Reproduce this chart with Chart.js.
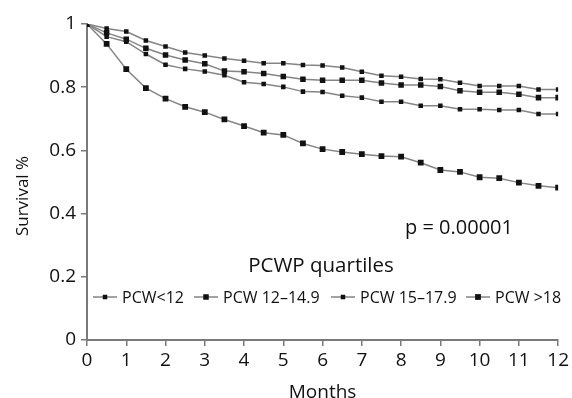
<!DOCTYPE html>
<html><head><meta charset="utf-8">
<script src="https://cdn.jsdelivr.net/npm/chart.js@4.4.0/dist/chart.umd.min.js"></script>
<style>html,body{margin:0;padding:0;background:#fff;}</style>
</head><body>
<canvas id="c" width="572" height="398"></canvas>
<script>
// ---- data ----
const months = [0,0.5,1,1.5,2,2.5,3,3.5,4,4.5,5,5.5,6,6.5,7,7.5,8,8.5,9,9.5,10,10.5,11,11.5,12];
const seriesLabels = ['PCW<12','PCW 12\u201314.9','PCW 15\u201317.9','PCW >18'];
const pcwUnder12 = [1,0.986,0.976,0.948,0.929,0.910,0.900,0.891,0.884,0.876,0.876,0.870,0.869,0.862,0.849,0.836,0.833,0.826,0.825,0.814,0.804,0.804,0.804,0.793,0.793];
const pcw12to149 = [1,0.972,0.952,0.923,0.902,0.886,0.874,0.851,0.849,0.843,0.834,0.825,0.822,0.822,0.822,0.813,0.807,0.807,0.802,0.789,0.784,0.784,0.778,0.767,0.767];
const pcw15to179 = [1,0.960,0.944,0.905,0.871,0.858,0.850,0.838,0.816,0.810,0.801,0.786,0.785,0.773,0.767,0.754,0.754,0.741,0.741,0.730,0.730,0.728,0.728,0.715,0.715];
const pcwOver18  = [1,0.937,0.857,0.797,0.764,0.738,0.721,0.698,0.677,0.656,0.649,0.622,0.604,0.595,0.588,0.582,0.580,0.561,0.538,0.532,0.515,0.512,0.498,0.488,0.482];
const xTicks = [0,1,2,3,4,5,6,7,8,9,10,11,12];
const yTicks = [0,0.2,0.4,0.6,0.8,1];
const yTickLabels = ['0','0.2','0.4','0.6','0.8','1'];
const legendTitle = 'PCWP quartiles';
const pValueText = 'p = 0.00001';
const xTitle = 'Months';
const yTitle = 'Survival %';

// ---- styles ----
const FONT = "'Open Sans', 'Noto Sans', sans-serif";
Chart.defaults.font.family = FONT;
const LINE = '#858585', MARK = '#111111', AXIS = '#7a7a7a', TEXT = '#111111';
const seriesData = [pcwUnder12, pcw12to149, pcw15to179, pcwOver18];
const markSize = [3.2, 3.9, 3.2, 4.1];
const legendTextX = [122, 223, 360, 495];

const datasets = seriesData.map((arr, i) => ({
  label: seriesLabels[i],
  data: arr.map((v, k) => ({x: months[k], y: v})),
  borderColor: LINE, borderWidth: 1.5,
  pointStyle: 'rect', pointRadius: markSize[i],
  pointBackgroundColor: MARK, pointBorderColor: MARK, pointBorderWidth: 0,
  tension: 0, fill: false
}));

const overlay = {
  id: 'overlay',
  afterDraw(chart) {
    const ctx = chart.ctx;
    ctx.save();
    ctx.fillStyle = TEXT;
    // y title
    ctx.save();
    ctx.translate(23, 196);
    ctx.rotate(-Math.PI / 2);
    ctx.font = "17px " + FONT;
    ctx.textAlign = 'center'; ctx.textBaseline = 'middle';
    ctx.fillText(yTitle, 0, 0);
    ctx.restore();
    // p-value
    ctx.font = "20px " + FONT;
    ctx.textAlign = 'center'; ctx.textBaseline = 'alphabetic';
    ctx.fillText(pValueText, 459, 234);
    // legend title
    ctx.font = "20.5px " + FONT;
    ctx.fillText(legendTitle, 321, 272);
    // legend items
    ctx.font = "16px " + FONT;
    ctx.textAlign = 'left'; ctx.textBaseline = 'middle';
    const ly = 297;
    chart.data.datasets.forEach((ds, i) => {
      const tx = legendTextX[i];
      const x0 = tx - 29, x1 = tx - 5;
      ctx.strokeStyle = LINE; ctx.lineWidth = 1.5;
      ctx.beginPath(); ctx.moveTo(x0, ly); ctx.lineTo(x1, ly); ctx.stroke();
      const s = markSize[i] * Math.SQRT1_2;
      const mx = (x0 + x1) / 2;
      ctx.fillStyle = MARK;
      ctx.fillRect(mx - s, ly - s, 2 * s, 2 * s);
      ctx.fillStyle = TEXT;
      ctx.fillText(ds.label, tx, ly + 1);
    });
    ctx.restore();
  }
};

new Chart(document.getElementById('c'), {
  type: 'line',
  data: { datasets },
  options: {
    responsive: false, animation: false,
    layout: { padding: { top: 24, right: 12, bottom: 0, left: 0 } },
    plugins: { legend: { display: false }, tooltip: { enabled: false } },
    scales: {
      x: {
        type: 'linear', min: 0, max: 12,
        afterBuildTicks: s => { s.ticks = xTicks.map(v => ({ value: v })); },
        grid: { display: true, drawOnChartArea: false, drawTicks: true, tickLength: 6, color: AXIS, lineWidth: 1.5 },
        border: { display: true, color: AXIS, width: 2 },
        ticks: { color: TEXT, font: { size: 19 }, padding: 3, maxRotation: 0, autoSkip: false },
        title: { display: true, text: xTitle, color: TEXT, font: { size: 19, lineHeight: 1 }, padding: { top: 0, bottom: -4 } },
        afterFit: s => { s.height = 58; }
      },
      y: {
        type: 'linear', min: 0, max: 1,
        afterBuildTicks: s => { s.ticks = yTicks.map(v => ({ value: v })); },
        grid: { display: true, drawOnChartArea: false, drawTicks: true, tickLength: 6, color: AXIS, lineWidth: 1.5 },
        border: { display: true, color: AXIS, width: 2 },
        ticks: { color: TEXT, font: { size: 19 }, padding: 5, autoSkip: false,
                 callback: (v, i) => yTickLabels[i] },
        afterFit: s => { s.width = 87; }
      }
    }
  },
  plugins: [overlay]
});
</script>
</body></html>
